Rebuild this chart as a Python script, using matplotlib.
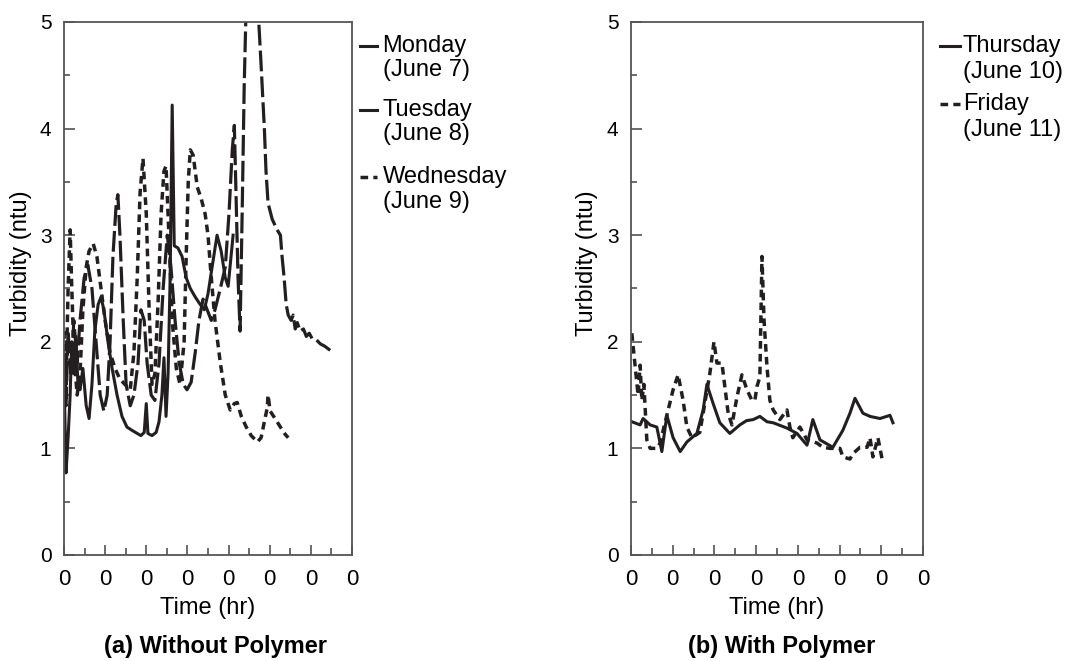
import matplotlib
matplotlib.use("Agg")
import matplotlib.pyplot as plt
from matplotlib.ticker import FixedLocator, FixedFormatter, MultipleLocator

plt.rcParams["font.family"] = ["Liberation Sans", "DejaVu Sans"]

INK = "#231f20"

# (a) Without Polymer -- time in tick units, turbidity in ntu
monday_t = [0.00, 0.05, 0.10, 0.15, 0.19, 0.24, 0.29, 0.34, 0.39, 0.46, 0.54, 0.61, 0.68, 0.75,
            0.83, 0.90, 0.97, 1.07, 1.17, 1.29, 1.41, 1.53, 1.65, 1.78, 1.87, 1.95, 2.00, 2.04,
            2.14, 2.24, 2.31, 2.38, 2.43, 2.48, 2.53, 2.58, 2.63, 2.68, 2.77, 2.87, 2.97, 3.07,
            3.19, 3.31, 3.41, 3.50, 3.60, 3.72, 3.82, 3.92, 3.99, 4.06, 4.11]
monday_ntu = [1.70, 0.77, 1.10, 1.50, 2.00, 1.70, 2.05, 1.60, 1.55, 1.75, 1.40, 1.28, 1.60, 2.10,
              2.35, 2.42, 2.30, 2.00, 1.75, 1.50, 1.30, 1.20, 1.17, 1.14, 1.12, 1.15, 1.42, 1.14,
              1.12, 1.15, 1.25, 1.50, 1.85, 1.30, 1.70, 2.60, 4.22, 2.90, 2.88, 2.80, 2.60, 2.50,
              2.42, 2.35, 2.30, 2.45, 2.70, 3.00, 2.85, 2.60, 2.52, 2.80, 3.00]

tuesday_t = [0.00, 0.05, 0.10, 0.17, 0.24, 0.32, 0.39, 0.49, 0.58, 0.68, 0.78, 0.88, 0.97, 1.05,
             1.12, 1.19, 1.27, 1.31, 1.36, 1.44, 1.51, 1.61, 1.70, 1.80, 1.87, 1.95, 2.02, 2.12,
             2.21, 2.31, 2.41, 2.51, 2.60, 2.70, 2.80, 2.90, 2.99, 3.09, 3.19, 3.28, 3.38, 3.48,
             3.58, 3.67, 3.80, 3.92, 4.01, 4.09, 4.14, 4.18, 4.23, 4.28, 4.33, 4.38, 4.43, 4.53,
             4.62, 4.72, 4.79, 4.87, 4.91, 4.96, 5.06, 5.18, 5.26, 5.30, 5.35, 5.40, 5.45, 5.52,
             5.57, 5.62, 5.67, 5.74, 5.82, 5.89, 5.96, 6.03, 6.13, 6.23, 6.33, 6.40, 6.47]
tuesday_ntu = [1.90, 1.40, 2.10, 1.70, 2.20, 1.80, 2.20, 2.60, 2.72, 2.50, 2.00, 1.50, 1.35, 1.50,
               2.00, 2.80, 3.30, 3.38, 3.00, 2.20, 1.60, 1.40, 1.50, 1.80, 2.30, 2.20, 1.80, 1.50,
               1.45, 1.80, 2.50, 3.00, 2.70, 2.20, 1.80, 1.60, 1.55, 1.62, 1.90, 2.20, 2.40, 2.30,
               2.20, 2.30, 2.50, 2.70, 3.20, 3.80, 4.03, 3.40, 2.60, 2.10, 3.20, 4.40, 5.20, 5.40,
               5.40, 5.10, 4.60, 4.00, 3.60, 3.30, 3.15, 3.05, 3.00, 2.80, 2.60, 2.35, 2.25, 2.20,
               2.25, 2.12, 2.18, 2.10, 2.12, 2.05, 2.08, 2.03, 2.02, 1.98, 1.96, 1.94, 1.92]

wednesday_t = [0.00, 0.05, 0.10, 0.15, 0.19, 0.24, 0.32, 0.39, 0.46, 0.54, 0.61, 0.71, 0.80, 0.90,
               1.00, 1.12, 1.24, 1.36, 1.48, 1.61, 1.70, 1.78, 1.85, 1.92, 2.00, 2.07, 2.14, 2.21,
               2.29, 2.36, 2.43, 2.48, 2.55, 2.63, 2.73, 2.82, 2.92, 2.97, 3.02, 3.07, 3.14, 3.24,
               3.33, 3.43, 3.50, 3.58, 3.67, 3.80, 3.92, 4.04, 4.14, 4.21, 4.31, 4.43, 4.55, 4.70,
               4.79, 4.87, 4.94, 4.96, 5.01, 5.13, 5.26, 5.38, 5.45]
wednesday_ntu = [2.10, 1.60, 2.50, 3.05, 2.50, 1.90, 1.50, 1.70, 2.30, 2.70, 2.85, 2.92, 2.80, 2.50,
                 2.20, 1.90, 1.75, 1.65, 1.60, 1.55, 1.90, 2.60, 3.40, 3.72, 3.20, 2.30, 1.60, 1.70,
                 2.40, 3.20, 3.60, 3.65, 3.00, 2.20, 1.75, 1.60, 2.00, 2.80, 3.50, 3.80, 3.75, 3.45,
                 3.35, 3.20, 3.00, 2.60, 2.20, 1.80, 1.50, 1.36, 1.42, 1.43, 1.30, 1.20, 1.12, 1.06,
                 1.10, 1.25, 1.38, 1.50, 1.35, 1.28, 1.20, 1.13, 1.10]

# (b) With Polymer
thursday_t = [0.02, 0.22, 0.29, 0.46, 0.62, 0.74, 0.86, 1.01, 1.18, 1.34, 1.58, 1.73, 1.82, 1.97,
              2.13, 2.37, 2.61, 2.77, 2.93, 3.09, 3.26, 3.41, 3.74, 3.98, 4.22, 4.36, 4.53, 4.84,
              5.08, 5.25, 5.37, 5.56, 5.73, 5.97, 6.21, 6.28]
thursday_ntu = [1.25, 1.22, 1.28, 1.22, 1.20, 0.97, 1.31, 1.10, 0.97, 1.06, 1.14, 1.36, 1.60, 1.42,
                1.24, 1.14, 1.22, 1.26, 1.27, 1.30, 1.25, 1.24, 1.19, 1.14, 1.03, 1.27, 1.08, 1.01,
                1.17, 1.33, 1.47, 1.33, 1.30, 1.28, 1.31, 1.24]

friday_t = [0.02, 0.10, 0.17, 0.22, 0.26, 0.31, 0.38, 0.46, 0.62, 0.70, 0.79, 0.86, 1.01, 1.13,
            1.25, 1.34, 1.46, 1.65, 1.73, 1.89, 1.99, 2.06, 2.18, 2.25, 2.33, 2.42, 2.54, 2.66,
            2.78, 2.90, 2.97, 3.02, 3.09, 3.14, 3.19, 3.26, 3.33, 3.41, 3.57, 3.74, 3.81, 3.88,
            4.05, 4.22, 4.46, 4.60, 4.77, 5.01, 5.08, 5.25, 5.32, 5.49, 5.66, 5.73, 5.80, 5.92,
            6.02]
friday_ntu = [2.08, 1.77, 1.50, 1.78, 1.45, 1.60, 1.08, 1.00, 1.00, 1.05, 1.20, 1.31, 1.55, 1.69,
              1.45, 1.20, 1.10, 1.15, 1.33, 1.70, 2.00, 1.80, 1.80, 1.58, 1.33, 1.22, 1.48, 1.69,
              1.55, 1.45, 1.45, 1.58, 1.67, 2.80, 2.20, 1.77, 1.45, 1.36, 1.27, 1.36, 1.20, 1.10,
              1.20, 1.08, 1.05, 1.01, 1.00, 1.00, 0.92, 0.90, 0.95, 1.01, 1.01, 1.10, 0.92, 1.10,
              0.90]

x_ticks = [0, 1, 2, 3, 4, 5, 6, 7]
x_tick_labels = ["0", "0", "0", "0", "0", "0", "0", "0"]
y_ticks = [0, 1, 2, 3, 4, 5]

STYLES = {
    "solid": dict(linestyle="-", linewidth=2.2),
    "long": dict(linestyle=(0, (6.5, 1.6)), linewidth=2.3),
    "short": dict(linestyle=(0, (2.2, 1.5)), linewidth=2.5),
}


def _style_axes(ax):
    ax.set_xlim(0, 7)
    ax.set_ylim(0, 5)
    ax.xaxis.set_major_locator(FixedLocator(x_ticks))
    ax.xaxis.set_major_formatter(FixedFormatter(x_tick_labels))
    ax.xaxis.set_minor_locator(MultipleLocator(0.5))
    ax.set_yticks(y_ticks)
    ax.yaxis.set_minor_locator(MultipleLocator(0.5))
    ax.tick_params(axis="both", which="both", direction="in", top=False, right=False,
                   colors="#444444", labelcolor="black")
    ax.tick_params(axis="x", which="major", length=7.5, width=1.1, labelsize=16, pad=10)
    ax.tick_params(axis="x", which="minor", length=5, width=1.1)
    ax.tick_params(axis="y", which="major", length=8, width=1.1, labelsize=15, pad=9)
    ax.tick_params(axis="y", which="minor", length=4.5, width=1.1)
    for spine in ax.spines.values():
        spine.set_color("#555555")
        spine.set_linewidth(1.3)
    ax.set_xlabel("Time (hr)", fontsize=17, labelpad=5)
    ax.set_ylabel("Turbidity (ntu)", fontsize=17)
    ax.yaxis.set_label_coords(-0.112, 0.548)


def _legend(ax, entries, x_line, x_text, rows, gap):
    # hand-drawn legend: short line sample followed by a two-line label
    for (label, sub, style), y in zip(entries, rows):
        ax.plot(x_line, [y, y], color=INK, transform=ax.transAxes, clip_on=False,
                **STYLES[style])
        ax.text(x_text, y, label, transform=ax.transAxes, fontsize=17, va="center", ha="left")
        ax.text(x_text, y - gap, sub, transform=ax.transAxes, fontsize=17, va="center",
                ha="left")


fig = plt.figure(figsize=(10.68, 6.61), dpi=100)
ax_a = fig.add_axes([0.0599, 0.1604, 0.2697, 0.8064])
ax_b = fig.add_axes([0.5908, 0.1604, 0.2734, 0.8064])

ax_a.plot(monday_t, monday_ntu, color=INK, **STYLES["solid"])
ax_a.plot(tuesday_t, tuesday_ntu, color=INK, **STYLES["long"])
ax_a.plot(wednesday_t, wednesday_ntu, color=INK, **STYLES["short"])
_style_axes(ax_a)
_legend(ax_a, [("Monday", "(June 7)", "solid"),
               ("Tuesday", "(June 8)", "solid"),
               ("Wednesday", "(June 9)", "short")],
        [1.028, 1.087], 1.106, [0.955, 0.835, 0.709], 0.046)

ax_b.plot(thursday_t, thursday_ntu, color=INK, **STYLES["solid"])
ax_b.plot(friday_t, friday_ntu, color=INK, **STYLES["short"])
_style_axes(ax_b)
_legend(ax_b, [("Thursday", "(June 10)", "solid"),
               ("Friday", "(June 11)", "short")],
        [1.058, 1.127], 1.137, [0.955, 0.846], 0.048)

fig.text(215 / 1068, 1 - 647 / 661, "(a) Without Polymer", fontsize=17, fontweight="bold",
         ha="center", va="center")
fig.text(782 / 1068, 1 - 647 / 661, "(b) With Polymer", fontsize=17, fontweight="bold",
         ha="center", va="center")

fig.savefig("out.png", dpi=100)
plt.close(fig)
